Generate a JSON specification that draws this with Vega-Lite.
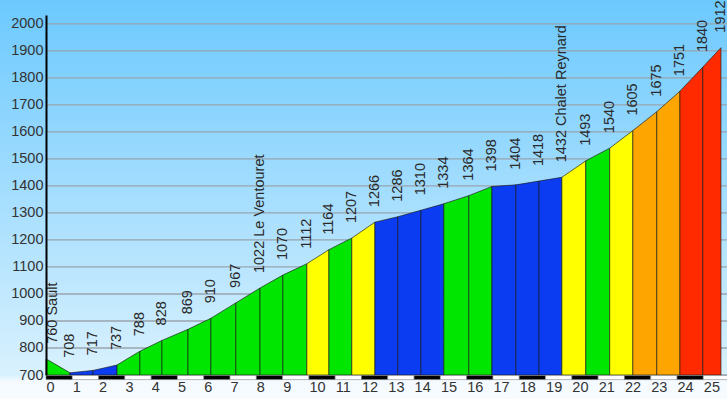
{
  "$schema": "https://vega.github.io/schema/vega-lite/v6.json",
  "autosize": "none",
  "width": 681,
  "height": 360,
  "padding": {"left": 46, "top": 15, "right": 0, "bottom": 24},
  "background": "#f8fcff",
  "config": {
    "view": {"stroke": null},
    "font": "Liberation Sans",
    "axis": {"labelOverlap": false, "labelFontSize": 14.5, "labelColor": "#333333", "grid": false, "ticks": false, "tickSize": 0, "title": null}
  },
  "datasets": {
    "pts": [
      {"km": 0, "alt": 760, "label": "760 Sault"},
      {"km": 0.91, "alt": 708, "label": "708"},
      {"km": 1.79, "alt": 717, "label": "717"},
      {"km": 2.70, "alt": 737, "label": "737"},
      {"km": 3.57, "alt": 788, "label": "788"},
      {"km": 4.41, "alt": 828, "label": "828"},
      {"km": 5.40, "alt": 869, "label": "869"},
      {"km": 6.27, "alt": 910, "label": "910"},
      {"km": 7.22, "alt": 967, "label": "967"},
      {"km": 8.14, "alt": 1022, "label": "1022 Le Ventouret"},
      {"km": 9.01, "alt": 1070, "label": "1070"},
      {"km": 9.92, "alt": 1112, "label": "1112"},
      {"km": 10.76, "alt": 1164, "label": "1164"},
      {"km": 11.63, "alt": 1207, "label": "1207"},
      {"km": 12.51, "alt": 1266, "label": "1266"},
      {"km": 13.38, "alt": 1286, "label": "1286"},
      {"km": 14.26, "alt": 1310, "label": "1310"},
      {"km": 15.13, "alt": 1334, "label": "1334"},
      {"km": 16.08, "alt": 1364, "label": "1364"},
      {"km": 16.96, "alt": 1398, "label": "1398"},
      {"km": 17.87, "alt": 1404, "label": "1404"},
      {"km": 18.75, "alt": 1418, "label": "1418"},
      {"km": 19.62, "alt": 1432, "label": "1432 Chalet Reynard"},
      {"km": 20.53, "alt": 1493, "label": "1493"},
      {"km": 21.44, "alt": 1540, "label": "1540"},
      {"km": 22.32, "alt": 1605, "label": "1605"},
      {"km": 23.23, "alt": 1675, "label": "1675"},
      {"km": 24.11, "alt": 1751, "label": "1751"},
      {"km": 24.98, "alt": 1840, "label": "1840"},
      {"km": 25.67, "alt": 1912, "label": "1912"}
    ],
    "segs": [
      {"seg": 1, "km": 0, "alt": 760, "cls": "3-6%"},
      {"seg": 1, "km": 0.91, "alt": 708, "cls": "3-6%"},
      {"seg": 2, "km": 0.91, "alt": 708, "cls": "0-3%"},
      {"seg": 2, "km": 1.79, "alt": 717, "cls": "0-3%"},
      {"seg": 3, "km": 1.79, "alt": 717, "cls": "0-3%"},
      {"seg": 3, "km": 2.70, "alt": 737, "cls": "0-3%"},
      {"seg": 4, "km": 2.70, "alt": 737, "cls": "3-6%"},
      {"seg": 4, "km": 3.57, "alt": 788, "cls": "3-6%"},
      {"seg": 5, "km": 3.57, "alt": 788, "cls": "3-6%"},
      {"seg": 5, "km": 4.41, "alt": 828, "cls": "3-6%"},
      {"seg": 6, "km": 4.41, "alt": 828, "cls": "3-6%"},
      {"seg": 6, "km": 5.40, "alt": 869, "cls": "3-6%"},
      {"seg": 7, "km": 5.40, "alt": 869, "cls": "3-6%"},
      {"seg": 7, "km": 6.27, "alt": 910, "cls": "3-6%"},
      {"seg": 8, "km": 6.27, "alt": 910, "cls": "3-6%"},
      {"seg": 8, "km": 7.22, "alt": 967, "cls": "3-6%"},
      {"seg": 9, "km": 7.22, "alt": 967, "cls": "3-6%"},
      {"seg": 9, "km": 8.14, "alt": 1022, "cls": "3-6%"},
      {"seg": 10, "km": 8.14, "alt": 1022, "cls": "3-6%"},
      {"seg": 10, "km": 9.01, "alt": 1070, "cls": "3-6%"},
      {"seg": 11, "km": 9.01, "alt": 1070, "cls": "3-6%"},
      {"seg": 11, "km": 9.92, "alt": 1112, "cls": "3-6%"},
      {"seg": 12, "km": 9.92, "alt": 1112, "cls": "6-7.5%"},
      {"seg": 12, "km": 10.76, "alt": 1164, "cls": "6-7.5%"},
      {"seg": 13, "km": 10.76, "alt": 1164, "cls": "3-6%"},
      {"seg": 13, "km": 11.63, "alt": 1207, "cls": "3-6%"},
      {"seg": 14, "km": 11.63, "alt": 1207, "cls": "6-7.5%"},
      {"seg": 14, "km": 12.51, "alt": 1266, "cls": "6-7.5%"},
      {"seg": 15, "km": 12.51, "alt": 1266, "cls": "0-3%"},
      {"seg": 15, "km": 13.38, "alt": 1286, "cls": "0-3%"},
      {"seg": 16, "km": 13.38, "alt": 1286, "cls": "0-3%"},
      {"seg": 16, "km": 14.26, "alt": 1310, "cls": "0-3%"},
      {"seg": 17, "km": 14.26, "alt": 1310, "cls": "0-3%"},
      {"seg": 17, "km": 15.13, "alt": 1334, "cls": "0-3%"},
      {"seg": 18, "km": 15.13, "alt": 1334, "cls": "3-6%"},
      {"seg": 18, "km": 16.08, "alt": 1364, "cls": "3-6%"},
      {"seg": 19, "km": 16.08, "alt": 1364, "cls": "3-6%"},
      {"seg": 19, "km": 16.96, "alt": 1398, "cls": "3-6%"},
      {"seg": 20, "km": 16.96, "alt": 1398, "cls": "0-3%"},
      {"seg": 20, "km": 17.87, "alt": 1404, "cls": "0-3%"},
      {"seg": 21, "km": 17.87, "alt": 1404, "cls": "0-3%"},
      {"seg": 21, "km": 18.75, "alt": 1418, "cls": "0-3%"},
      {"seg": 22, "km": 18.75, "alt": 1418, "cls": "0-3%"},
      {"seg": 22, "km": 19.62, "alt": 1432, "cls": "0-3%"},
      {"seg": 23, "km": 19.62, "alt": 1432, "cls": "6-7.5%"},
      {"seg": 23, "km": 20.53, "alt": 1493, "cls": "6-7.5%"},
      {"seg": 24, "km": 20.53, "alt": 1493, "cls": "3-6%"},
      {"seg": 24, "km": 21.44, "alt": 1540, "cls": "3-6%"},
      {"seg": 25, "km": 21.44, "alt": 1540, "cls": "6-7.5%"},
      {"seg": 25, "km": 22.32, "alt": 1605, "cls": "6-7.5%"},
      {"seg": 26, "km": 22.32, "alt": 1605, "cls": "7.5-9%"},
      {"seg": 26, "km": 23.23, "alt": 1675, "cls": "7.5-9%"},
      {"seg": 27, "km": 23.23, "alt": 1675, "cls": "7.5-9%"},
      {"seg": 27, "km": 24.11, "alt": 1751, "cls": "7.5-9%"},
      {"seg": 28, "km": 24.11, "alt": 1751, "cls": ">9%"},
      {"seg": 28, "km": 24.98, "alt": 1840, "cls": ">9%"},
      {"seg": 29, "km": 24.98, "alt": 1840, "cls": ">9%"},
      {"seg": 29, "km": 25.67, "alt": 1912, "cls": ">9%"}
    ],
    "kmbar": [
      {"k0": 0, "k1": 1, "b": "dark"}, {"k0": 1, "k1": 2, "b": "light"},
      {"k0": 2, "k1": 3, "b": "dark"}, {"k0": 3, "k1": 4, "b": "light"},
      {"k0": 4, "k1": 5, "b": "dark"}, {"k0": 5, "k1": 6, "b": "light"},
      {"k0": 6, "k1": 7, "b": "dark"}, {"k0": 7, "k1": 8, "b": "light"},
      {"k0": 8, "k1": 9, "b": "dark"}, {"k0": 9, "k1": 10, "b": "light"},
      {"k0": 10, "k1": 11, "b": "dark"}, {"k0": 11, "k1": 12, "b": "light"},
      {"k0": 12, "k1": 13, "b": "dark"}, {"k0": 13, "k1": 14, "b": "light"},
      {"k0": 14, "k1": 15, "b": "dark"}, {"k0": 15, "k1": 16, "b": "light"},
      {"k0": 16, "k1": 17, "b": "dark"}, {"k0": 17, "k1": 18, "b": "light"},
      {"k0": 18, "k1": 19, "b": "dark"}, {"k0": 19, "k1": 20, "b": "light"},
      {"k0": 20, "k1": 21, "b": "dark"}, {"k0": 21, "k1": 22, "b": "light"},
      {"k0": 22, "k1": 23, "b": "dark"}, {"k0": 23, "k1": 24, "b": "light"},
      {"k0": 24, "k1": 25, "b": "dark"}, {"k0": 25, "k1": 26, "b": "light"}
    ],
    "grid": [
      {"g": 700}, {"g": 800}, {"g": 900}, {"g": 1000}, {"g": 1100}, {"g": 1200}, {"g": 1300},
      {"g": 1400}, {"g": 1500}, {"g": 1600}, {"g": 1700}, {"g": 1800}, {"g": 1900}, {"g": 2000}
    ]
  },
  "resolve": {"scale": {"color": "independent"}},
  "layer": [
    {
      "data": {"name": "pts"},
      "mark": {
        "type": "rect",
        "color": {
          "gradient": "linear", "x1": 0, "y1": 0, "x2": 0, "y2": 1,
          "stops": [
            {"offset": 0, "color": "#6cc9fe"},
            {"offset": 0.042, "color": "#6cc9fe"},
            {"offset": 0.936, "color": "#d9f1fe"},
            {"offset": 0.95, "color": "#f4faff"},
            {"offset": 1, "color": "#f8fcff"}
          ]
        }
      },
      "encoding": {
        "x": {
          "datum": -2, "type": "quantitative",
          "scale": {"domain": [0, 25.9], "nice": false, "zero": false},
          "axis": {
            "title": null, "values": [0,1,2,3,4,5,6,7,8,9,10,11,12,13,14,15,16,17,18,19,20,21,22,23,24,25],
            "tickCount": 40,
            "format": "d", "grid": false, "domain": false, "ticks": false, "tickSize": 0,
            "labelAlign": "left", "labelBaseline": "top", "labelPadding": 5, "labelFontSize": 14.5,
            "labelColor": "#333333", "labelFlush": false, "labelOverlap": false, "zindex": 1
          }
        },
        "x2": {"datum": 27},
        "y": {
          "datum": 600, "type": "quantitative",
          "scale": {"domain": [700, 2033], "nice": false, "zero": false},
          "axis": {
            "title": null, "values": [700,800,900,1000,1100,1200,1300,1400,1500,1600,1700,1800,1900,2000],
            "tickCount": 20,
            "format": "d", "grid": false, "domain": true, "domainColor": "#000000", "domainWidth": 2,
            "ticks": false, "tickSize": 0, "labelPadding": 3, "labelFontSize": 14.5,
            "labelColor": "#333333", "labelOverlap": false, "zindex": 1
          }
        },
        "y2": {"datum": 2150}
      }
    },
    {
      "data": {"name": "grid"},
      "mark": {"type": "rule", "color": "#98a4ae", "strokeWidth": 1.3},
      "encoding": {"y": {"field": "g", "type": "quantitative"}}
    },
    {
      "data": {"name": "segs"},
      "mark": {"type": "area", "stroke": "#1a1a1a", "strokeOpacity": 0.65, "strokeWidth": 1, "fillOpacity": 1},
      "encoding": {
        "x": {"field": "km", "type": "quantitative"},
        "y": {"field": "alt", "type": "quantitative"},
        "y2": {"datum": 700},
        "detail": {"field": "seg", "type": "nominal"},
        "fill": {
          "field": "cls", "type": "nominal", "legend": null,
          "scale": {"domain": ["0-3%", "3-6%", "6-7.5%", "7.5-9%", ">9%"], "range": ["#0b3cf2", "#00e600", "#ffff00", "#ffa500", "#ff2a00"]}
        }
      }
    },
    {
      "data": {"name": "kmbar"},
      "mark": {"type": "rect", "stroke": "#8a8a8a", "strokeWidth": 0.6},
      "encoding": {
        "x": {"field": "k0", "type": "quantitative"},
        "x2": {"field": "k1"},
        "y": {"datum": 698, "type": "quantitative"},
        "y2": {"datum": 683},
        "color": {
          "field": "b", "type": "nominal", "legend": null,
          "scale": {"domain": ["dark", "light"], "range": ["#000000", "#ffffff"]}
        }
      }
    },
    {
      "data": {"name": "pts"},
      "transform": [{"filter": "datum.km > 0"}],
      "mark": {"type": "text", "angle": 270, "align": "left", "baseline": "middle", "dx": 15, "fontSize": 14.5, "color": "#2a2a2a"},
      "encoding": {
        "x": {"field": "km", "type": "quantitative"},
        "y": {"field": "alt", "type": "quantitative"},
        "text": {"field": "label"}
      }
    },
    {
      "data": {"name": "pts"},
      "transform": [{"filter": "datum.km == 0"}],
      "mark": {"type": "text", "angle": 270, "align": "left", "baseline": "middle", "dx": 15, "dy": 7, "fontSize": 14.5, "color": "#2a2a2a"},
      "encoding": {
        "x": {"field": "km", "type": "quantitative"},
        "y": {"field": "alt", "type": "quantitative"},
        "text": {"field": "label"}
      }
    }
  ]
}
